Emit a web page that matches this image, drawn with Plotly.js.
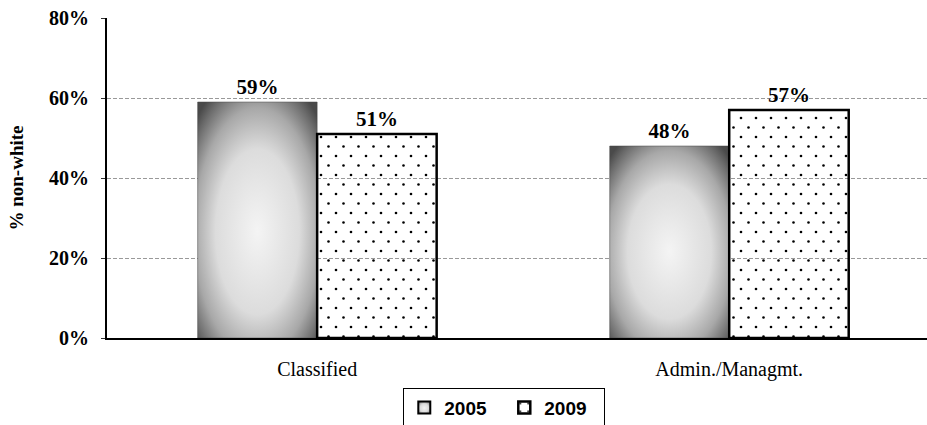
<!DOCTYPE html>
<html>
<head>
<meta charset="utf-8">
<script src="https://cdn.plot.ly/plotly-3.0.1.min.js"></script>
<style>html,body{margin:0;padding:0;background:#fff;}#chart{width:927px;height:425px;}</style>
</head>
<body>
<div id="chart"></div>
<script>
const categories = ['Classified', 'Admin./Managmt.'];
const seriesNames = ['2005', '2009'];
const values2005 = [0.59, 0.48];
const values2009 = [0.51, 0.57];
const yTicks = [0, 0.2, 0.4, 0.6, 0.8];

const serif = 'Liberation Serif, Times New Roman, serif';

const traces = [
  {
    type: 'bar', name: seriesNames[0], x: categories, y: values2005,
    marker: {color: '#9a9a9a', line: {color: '#444', width: 0.5}},
    texttemplate: '%{y:.0%}', textposition: 'outside', cliponaxis: false,
    textfont: {family: serif, size: 21, color: '#000', weight: 'bold'},
    hoverinfo: 'none'
  },
  {
    type: 'bar', name: seriesNames[1], x: categories, y: values2009,
    marker: {color: 'rgba(255,255,255,0)', line: {color: '#000', width: 2.5},
      pattern: {shape: '.', fgcolor: '#000', bgcolor: 'rgba(255,255,255,0)', size: 11, solidity: 0.05}},
    texttemplate: '%{y:.0%}', textposition: 'outside', cliponaxis: false,
    textfont: {family: serif, size: 21, color: '#000', weight: 'bold'},
    hoverinfo: 'none'
  }
];

const layout = {
  width: 927, height: 425,
  margin: {l: 107, r: 0, t: 18, b: 87},
  paper_bgcolor: '#fff', plot_bgcolor: 'rgba(0,0,0,0)',
  barmode: 'group', bargap: 0.42, bargroupgap: 0,
  showlegend: true,
  legend: {
    orientation: 'h', xref: 'container', yref: 'container',
    x: 0.544, xanchor: 'center', y: 0.088, yanchor: 'top',
    bordercolor: '#000', borderwidth: 1, bgcolor: '#fff',
    font: {family: 'Liberation Sans, Arial, sans-serif', size: 19, color: '#000', weight: 'bold'},
    itemwidth: 30, entrywidth: 55, tracegroupgap: 0
  },
  xaxis: {
    type: 'category', range: [-0.51, 1.48],
    showline: true, linecolor: '#000', linewidth: 2,
    ticks: '', showgrid: false,
    tickfont: {family: serif, size: 20, color: '#000'},
    ticklabelstandoff: 12
  },
  yaxis: {
    range: [0, 0.8], tickvals: yTicks, tickformat: '.0%',
    showline: true, linecolor: '#000', linewidth: 2,
    ticks: 'outside', ticklen: 4, tickcolor: '#333', tickwidth: 1,
    showgrid: true, gridcolor: '#999', gridwidth: 1, griddash: '4px,2px',
    zeroline: false,
    tickfont: {family: serif, size: 20, color: '#000', weight: 'bold'},
    ticklabelstandoff: 8,
    title: {text: '% non-white', font: {family: serif, size: 19, color: '#000', weight: 'bold'}, standoff: 20}
  }
};

Plotly.newPlot('chart', traces, layout, {displayModeBar: false, staticPlot: true}).then(function (gd) {
  const svgNS = 'http://www.w3.org/2000/svg';
  const svg = gd.querySelector('svg.main-svg');
  let defs = svg.querySelector('defs');
  if (!defs) { defs = document.createElementNS(svgNS, 'defs'); svg.insertBefore(defs, svg.firstChild); }
  const grad = document.createElementNS(svgNS, 'radialGradient');
  grad.setAttribute('id', 'grad2005');
  grad.setAttribute('cx', '0.5'); grad.setAttribute('cy', '0.55'); grad.setAttribute('r', '0.7');
  [['0', '#f4f4f4'], ['0.5', '#dcdcdc'], ['0.75', '#a8a8a8'], ['0.92', '#6a6a6a'], ['1', '#4a4a4a']].forEach(function (s) {
    const st = document.createElementNS(svgNS, 'stop');
    st.setAttribute('offset', s[0]); st.setAttribute('stop-color', s[1]);
    grad.appendChild(st);
  });
  defs.appendChild(grad);

  // staggered dot pattern for 2009 bars
  const dots = document.createElementNS(svgNS, 'pattern');
  dots.setAttribute('id', 'dots2009');
  dots.setAttribute('patternUnits', 'userSpaceOnUse');
  dots.setAttribute('width', '15'); dots.setAttribute('height', '19');
  [[4, 5], [11.5, 14.5]].forEach(function (c) {
    const ci = document.createElementNS(svgNS, 'circle');
    ci.setAttribute('cx', c[0]); ci.setAttribute('cy', c[1]); ci.setAttribute('r', '1.3');
    ci.setAttribute('fill', '#000');
    dots.appendChild(ci);
  });
  defs.appendChild(dots);

  const barTraces = gd.querySelectorAll('.barlayer .trace');
  if (barTraces[0]) barTraces[0].querySelectorAll('.point path').forEach(function (p) { p.style.fill = 'url(#grad2005)'; });
  if (barTraces[1]) barTraces[1].querySelectorAll('.point path').forEach(function (p) { p.style.fill = 'url(#dots2009)'; });
  const legendItems = gd.querySelectorAll('.legend .traces');
  if (legendItems[0]) legendItems[0].querySelectorAll('.legendpoints path').forEach(function (p) { p.style.fill = 'url(#grad2005)'; p.style.stroke = '#000'; p.style.strokeWidth = '2px'; });
});
</script>
</body>
</html>
